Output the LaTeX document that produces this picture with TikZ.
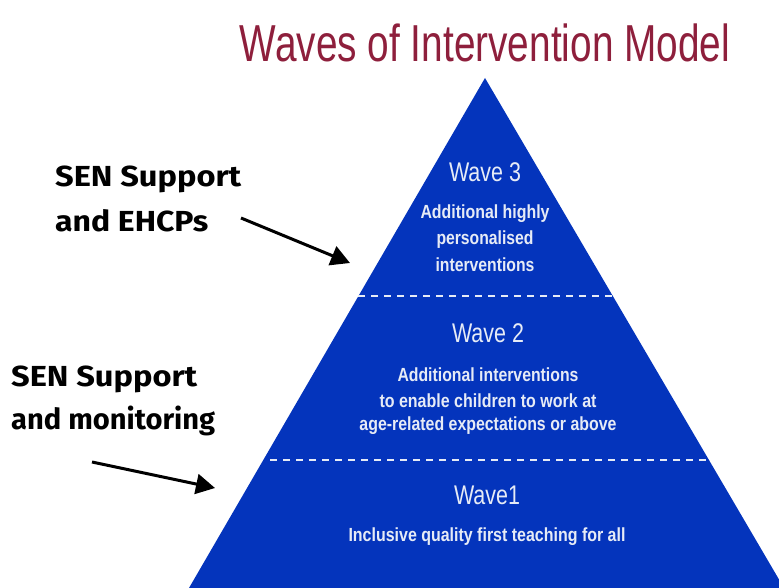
\documentclass[tikz,border=0pt]{standalone}
\usepackage{fontspec}
\usepackage{graphicx}
\setmainfont{Liberation Sans}
\newfontfamily\handfont{Fira Sans}
\usetikzlibrary{arrows.meta}
\definecolor{pyrblue}{HTML}{0434BC}
\definecolor{titlered}{HTML}{8E1F3C}
\definecolor{softwhite}{HTML}{E6EBF6}
\newcommand{\fw}[2]{\resizebox{#1pt}{\height}{#2}}
\tikzset{
  x=1pt,y=-1pt,
  headtext/.style={text=softwhite,inner sep=0pt,anchor=center,font=\fontsize{27}{27}\selectfont},
  subtext/.style={text=softwhite,inner sep=0pt,anchor=center,font=\bfseries\fontsize{19}{19}\selectfont},
  sidetext/.style={text=black,inner sep=0pt,anchor=base west,font=\handfont\bfseries\fontsize{29}{29}\selectfont},
  pointer/.style={line width=3pt,black,-{Triangle[length=19pt,width=20pt]}},
  waveline/.style={line width=2.4pt,softwhite,dash pattern=on 7pt off 6pt}
}
\begin{document}
\begin{tikzpicture}
\useasboundingbox (0,0) rectangle (779,588);
\fill[white] (0,0) rectangle (779,588);
\fill[pyrblue] (485,78) -- (784,588) -- (189,588) -- cycle;
\coordinate (d1l) at (358,296); \coordinate (d1r) at (614,296);
\coordinate (d2l) at (270,460); \coordinate (d2r) at (709,460);
\draw[waveline] (d1l) -- (d1r);
\draw[waveline] (d2l) -- (d2r);
\node[inner sep=0pt,text=titlered,font=\fontsize{52}{52}\selectfont] (title) at (485,43) {\fw{490}{Waves of Intervention Model}};
\node[headtext] (w3) at (485,172) {\fw{72}{Wave 3}};
\node[subtext] (w3a) at (485,214) {\fw{129}{Additional highly}};
\node[subtext] (w3b) at (485,240) {\fw{97}{personalised}};
\node[subtext] (w3c) at (485,265) {\fw{99}{interventions}};
\node[headtext] (w2) at (488,333) {\fw{72}{Wave 2}};
\node[subtext] (w2a) at (488,375) {\fw{181}{Additional interventions}};
\node[subtext] (w2b) at (488,401) {\fw{217}{to enable children to work at}};
\node[subtext] (w2c) at (488,426) {\fw{257}{age-related expectations or above}};
\node[headtext] (w1) at (487,495) {\fw{66}{Wave1}};
\node[subtext] (w1a) at (487,537) {\fw{277}{Inclusive quality first teaching for all}};
\node[sidetext] (s1) at (55,187) {\fw{186}{SEN Support}};
\node[sidetext] (s2) at (55,231) {\fw{153}{and EHCPs}};
\node[sidetext] (s3) at (11,386) {\fw{186}{SEN Support}};
\node[sidetext] (s4) at (11,429) {\fw{204}{and monitoring}};
\coordinate (a1s) at (241,218); \coordinate (a1e) at (350,263);
\coordinate (a2s) at (92,462); \coordinate (a2e) at (215,488);
\draw[pointer] (a1s) -- (a1e);
\draw[pointer] (a2s) -- (a2e);
\end{tikzpicture}
\end{document}
